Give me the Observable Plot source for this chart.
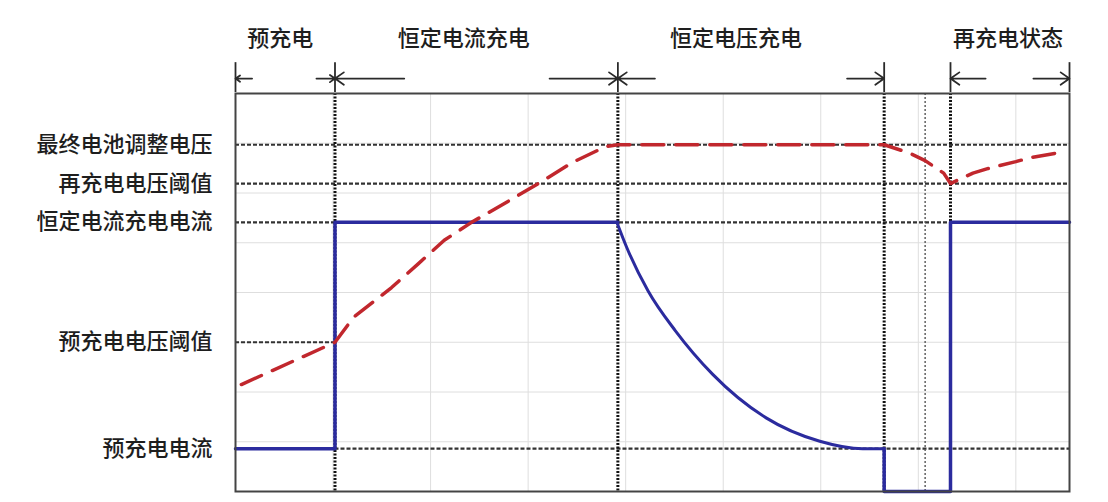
<!DOCTYPE html>
<html><head><meta charset="utf-8">
<script src="https://cdn.jsdelivr.net/npm/d3@7"></script>
<script src="https://cdn.jsdelivr.net/npm/@observablehq/plot@0.6"></script>
<style>
body{margin:0;background:#fff;}
#chart svg{display:block;}
</style></head><body><div id="chart"></div>
<script>
// ---- data (grid units) ----
const levelNames  = ["预充电电流","预充电电压阈值","恒定电流充电电流","再充电电压阈值","最终电池调整电压"];
const levelValues = [0.86, 3.0, 5.41, 6.19, 6.97];

const phaseNames = ["预充电","恒定电流充电","恒定电压充电","再充电状态"];
const phaseLabelX = [0.46, 2.34, 5.13, 7.92];
const phaseBounds = [0, 1.02, 3.92, 6.65, 7.33, 8.55];
const arrowFrom = [0.17, 0.83, 1.73, 3.22, 4.30, 6.27, 7.69, 8.18];
const arrowTo   = [0.00, 1.02, 1.02, 3.92, 3.92, 6.65, 7.33, 8.55];

const boundaryMain = [1.02, 3.92, 6.65, 7.33];
const boundaryMinor = [7.07];

// dashed reference levels: value, from, to
const refLevel = [6.97, 6.19, 5.41, 3.0, 0.86];
const refFrom  = [0, 0, 0, 0, 1.02];
const refTo    = [8.55, 8.55, 8.55, 1.02, 8.55];

// battery voltage (red dashed)
const voltX = [0.06,1.02,1.21,1.60,1.87,2.14,2.42,2.81,3.13,3.46,3.79,3.92,6.65,6.90,7.07,7.26,7.33,7.56,7.71,8.00,8.15,8.44];
const voltY = [2.15,3.00,3.50,4.10,4.57,5.05,5.41,5.85,6.22,6.62,6.93,6.97,6.97,6.81,6.65,6.40,6.19,6.40,6.49,6.63,6.71,6.81];

// charge current (blue)
const curAX = [0, 1.02, 1.02, 3.92];
const curAY = [0.86, 0.86, 5.41, 5.41];
const decayX = [3.91,4.01,4.23,4.51,4.89,5.44,5.99,6.43,6.65];
const decayY = [5.41,4.91,4.03,3.23,2.36,1.48,1.01,0.86,0.86];
const curBX = [6.65, 6.65, 7.33, 7.33, 8.55];
const curBY = [0.86, 0, 0, 5.41, 5.41];

const gridX = [1,2,3,4,5,6,7,8];
const gridY = [1,2,3,4,5,6,7];

// header placement (y in grid units above the frame)
const headerTextY = 9.1, headerArrowY = 8.3, headerTickTop = 8.62, headerTickBottom = 8.02;

const red = "#c1272d", blue = "#2b2b9e", ink = "#2a2a2a";

const chart = Plot.plot({
  width: 1108, height: 502,
  marginLeft: 235, marginRight: 39, marginTop: 93, marginBottom: 11,
  style: {fontFamily: "'Noto Sans CJK SC', sans-serif", fontSize: "22px", color: "#1e1e1e", background: "#fff"},
  x: {domain: [0, 8.55], axis: null},
  y: {domain: [0, 8], axis: null},
  marks: [
    Plot.ruleX(gridX, {stroke: "#dedede", strokeWidth: 1}),
    Plot.ruleY(gridY, {stroke: "#dedede", strokeWidth: 1}),
    Plot.ruleY(refLevel, {y: d => d, x1: (d,i) => refFrom[i], x2: (d,i) => refTo[i], stroke: "#333", strokeWidth: 2.2, strokeDasharray: "4,2"}),
    Plot.ruleX(boundaryMain, {stroke: "#111", strokeWidth: 3, strokeDasharray: "2,1.5"}),
    Plot.ruleX(boundaryMinor, {stroke: "#555", strokeWidth: 1.4, strokeDasharray: "2,2"}),
    Plot.line(curAX, {x: d => d, y: (d,i) => curAY[i], stroke: blue, strokeWidth: 3.5}),
    Plot.line(decayX, {x: d => d, y: (d,i) => decayY[i], stroke: blue, strokeWidth: 3, curve: "monotone-x"}),
    Plot.line(curBX, {x: d => d, y: (d,i) => curBY[i], stroke: blue, strokeWidth: 3.5}),
    Plot.line(voltX, {x: d => d, y: (d,i) => voltY[i], stroke: red, strokeWidth: 3.5, strokeDasharray: "22,12"}),
    Plot.frame({stroke: "#444", strokeWidth: 2}),
    Plot.axisY(levelValues, {tickSize: 0, tickPadding: 23, fontSize: 22, fontWeight: 500, tickFormat: d => levelNames[levelValues.indexOf(d)], label: null, fill: "#1e1e1e"}),
    Plot.text(phaseNames, {x: (d,i) => phaseLabelX[i], y: () => headerTextY, text: d => d, fontSize: 22, fontWeight: 500, fill: "#1e1e1e"}),
    Plot.ruleX(phaseBounds, {y1: () => headerTickBottom, y2: () => headerTickTop, stroke: ink, strokeWidth: 1.8}),
    Plot.arrow(arrowFrom, {x1: d => d, x2: (d,i) => arrowTo[i], y1: () => headerArrowY, y2: () => headerArrowY, stroke: ink, strokeWidth: 1.8, headLength: 9, headAngle: 70})
  ]
});
document.getElementById("chart").append(chart);
</script></body></html>
